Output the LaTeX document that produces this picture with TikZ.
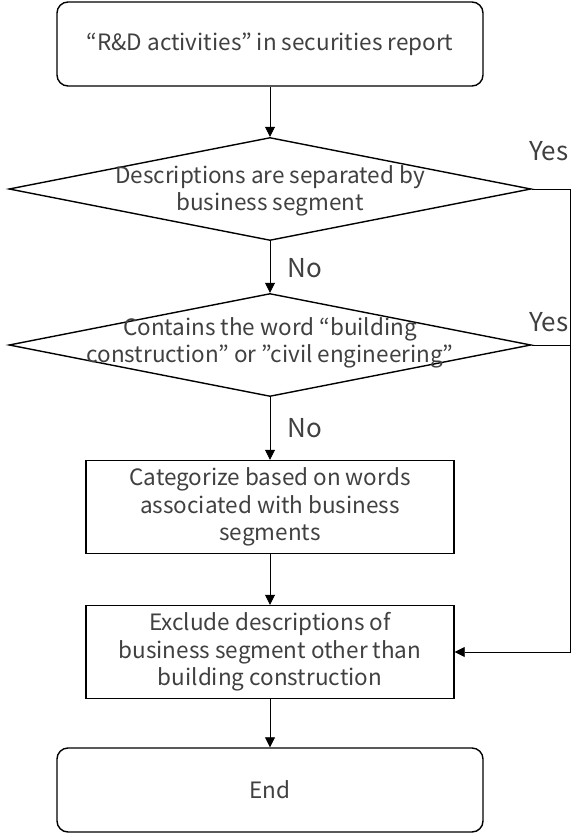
\documentclass[tikz,border=0pt]{standalone}
\usepackage{fontspec}
\setmainfont{Noto Sans CJK JP}
\usetikzlibrary{shapes.geometric,arrows.meta}
\definecolor{txt}{HTML}{404040}
\tikzset{
  box/.style={draw=black, line width=1.4pt, minimum width=368pt, minimum height=93pt, inner sep=0pt},
  term/.style={draw=black, line width=1.4pt, rounded corners=11pt, minimum width=426pt, minimum height=84pt, inner sep=0pt},
  dia/.style={draw=black, line width=1.4pt, diamond, minimum width=522pt, minimum height=103pt, inner sep=0pt},
  lbl/.style={text=txt, font=\fontsize{22.5pt}{27.5pt}\selectfont, align=center, inner sep=0pt},
  yn/.style={text=txt, font=\fontsize{26pt}{30pt}\selectfont, inner sep=0pt},
  conn/.style={draw=black, line width=0.8pt},
  arr/.style={conn, -{Triangle[length=10pt,width=10pt]}}
}
\begin{document}
\begin{tikzpicture}[x=1pt,y=-1pt]
\useasboundingbox (0,0) rectangle (576,834);
\node[term] (start) at (270,44) {};
\node[lbl] at (start) {“R\&D activities” in securities report};
\node[dia] (d1) at (270,189) {};
\node[lbl] (d1t) at (270,191) {Descriptions are separated by\\business segment};
\node[dia] (d2) at (270,345) {};
\node[lbl] (d2t) at (270,343) {Contains the word “building\\construction” or ”civil engineering”};
\node[box] (b3) at (270,507) {};
\node[lbl] at (b3) {Categorize based on words\\associated with business\\segments};
\node[box] (b4) at (270,652) {};
\node[lbl] at (b4) {Exclude descriptions of\\business segment other than\\building construction};
\node[term] (end) at (270,790) {};
\node[lbl] at (end) {End};
\coordinate (cx) at (570,0);
\draw[arr] (start) -- (d1);
\draw[arr] (d1) -- (d2);
\draw[arr] (d2) -- (b3);
\draw[arr] (b3) -- (b4);
\draw[arr] (b4) -- (end);
\draw[arr] (d1.east) -- (d1.east -| cx) |- (b4.east);
\draw[conn] (d2.east) -- (d2.east -| cx);
\node[yn, anchor=west] (y1) at (529,151) {Yes};
\node[yn, anchor=west] (y2) at (529,322) {Yes};
\node[yn, anchor=west] (n1) at (287,268) {No};
\node[yn, anchor=west] (n2) at (287,428) {No};
\end{tikzpicture}
\end{document}
